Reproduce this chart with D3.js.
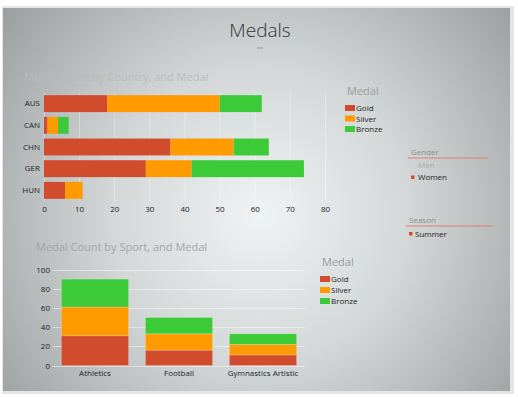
<!DOCTYPE html>
<html>
<head>
<meta charset="utf-8">
<script src="https://cdn.jsdelivr.net/npm/d3@7"></script>
<style>
  body { margin: 0; background: #fff; }
  text { font-family: "Open Sans", "Noto Sans", sans-serif; }
</style>
</head>
<body>
<svg id="chart"></svg>
<script>
// data
var medals = ["Gold", "Silver", "Bronze"];
var medalColors = ["#d04c2d", "#ff9a00", "#3cca39"];
var countries = ["AUS", "CAN", "CHN", "GER", "HUN"];
var countryGold = [18, 1, 36, 29, 6];
var countrySilver = [32, 3, 18, 13, 5];
var countryBronze = [12, 3, 10, 32, 0];
var countryTicks = [0, 10, 20, 30, 40, 50, 60, 70, 80];
var sports = ["Athletics", "Football", "Gymnastics Artistic"];
var sportGold = [31, 16, 11];
var sportSilver = [30, 17, 11];
var sportBronze = [29, 17, 11];
var sportTicks = [0, 20, 40, 60, 80, 100];
var genders = ["Men", "Women"];
var seasons = ["Summer"];

function drawAll() {
  var W = 518, H = 397;
  var svg = d3.select("#chart").attr("width", W).attr("height", H);

  // background panel
  var defs = svg.append("defs");
  var grad = defs.append("radialGradient")
    .attr("id", "bg")
    .attr("gradientUnits", "userSpaceOnUse")
    .attr("cx", 260).attr("cy", 215).attr("r", 330);
  grad.append("stop").attr("offset", "0%").attr("stop-color", "#f0f3f3");
  grad.append("stop").attr("offset", "45%").attr("stop-color", "#d3d7d7");
  grad.append("stop").attr("offset", "100%").attr("stop-color", "#9a9e9f");

  svg.append("rect").attr("x", 2).attr("y", 6).attr("width", 512).attr("height", 388)
    .attr("fill", "#e4e6e6");
  svg.append("rect").attr("x", 3).attr("y", 8).attr("width", 507).attr("height", 383)
    .attr("fill", "url(#bg)");

  // main title
  svg.append("text").attr("x", 260).attr("y", 37).attr("text-anchor", "middle")
    .attr("font-size", 19).attr("font-weight", 300).attr("fill", "#333")
    .text("Medals");
  svg.append("line").attr("x1", 257).attr("x2", 263).attr("y1", 48).attr("y2", 48)
    .attr("stroke", "#999").attr("stroke-width", 1);

  drawCountryChart(svg);
  drawSportChart(svg);
  drawSlicers(svg);
}

function stackRows(cats, g, s, b) {
  return cats.map(function(c, i) {
    return { cat: c, Gold: g[i], Silver: s[i], Bronze: b[i] };
  });
}

function drawCountryChart(svg) {
  var rows = stackRows(countries, countryGold, countrySilver, countryBronze);
  var series = d3.stack().keys(medals)(rows);
  var x = d3.scaleLinear().domain([0, 80]).range([44, 325]);
  var y = d3.scaleBand().domain(countries).range([93, 201]).paddingInner(0.22).paddingOuter(0.1);
  var color = d3.scaleOrdinal().domain(medals).range(medalColors);

  svg.append("text").attr("x", 24).attr("y", 81)
    .attr("font-size", 11).attr("fill", "#b8bbbc")
    .text("Medal Count by Country, and Medal");

  // grid
  svg.append("g").selectAll("line").data(countryTicks).enter().append("line")
    .attr("x1", function(d) { return x(d) + 0.5; })
    .attr("x2", function(d) { return x(d) + 0.5; })
    .attr("y1", 93).attr("y2", 201)
    .attr("stroke", "#ffffff").attr("stroke-opacity", 0.35);

  svg.append("g").selectAll("g").data(series).enter().append("g")
    .attr("fill", function(d) { return color(d.key); })
    .selectAll("rect").data(function(d) { return d; }).enter().append("rect")
    .attr("x", function(d) { return x(d[0]); })
    .attr("y", function(d) { return y(d.data.cat); })
    .attr("width", function(d) { return x(d[1]) - x(d[0]); })
    .attr("height", y.bandwidth());

  var xAxis = svg.append("g").attr("transform", "translate(0,201)")
    .call(d3.axisBottom(x).tickValues(countryTicks).tickSize(0).tickPadding(5));
  xAxis.select(".domain").remove();
  xAxis.selectAll("text").attr("font-size", 8).attr("fill", "#222")
    .attr("font-family", "'Open Sans', sans-serif");

  var yAxis = svg.append("g").attr("transform", "translate(44,0)")
    .call(d3.axisLeft(y).tickSize(0).tickPadding(4));
  yAxis.select(".domain").remove();
  yAxis.selectAll("text").attr("font-size", 8).attr("fill", "#222")
    .attr("font-family", "'Open Sans', sans-serif");

  drawLegend(svg, 345, 99, 10.5);
}

function drawSportChart(svg) {
  var rows = stackRows(sports, sportGold, sportSilver, sportBronze);
  var series = d3.stack().keys(medals)(rows);
  var x = d3.scaleBand().domain(sports).range([53, 305]).paddingInner(0.2).paddingOuter(0.1);
  var y = d3.scaleLinear().domain([0, 100]).range([365.5, 269.5]);
  var color = d3.scaleOrdinal().domain(medals).range(medalColors);

  svg.append("text").attr("x", 36).attr("y", 251)
    .attr("font-size", 11).attr("fill", "#a2a5a6")
    .text("Medal Count by Sport, and Medal");

  svg.append("g").selectAll("line").data(sportTicks).enter().append("line")
    .attr("x1", 53).attr("x2", 305)
    .attr("y1", function(d) { return Math.round(y(d)) + 0.5; })
    .attr("y2", function(d) { return Math.round(y(d)) + 0.5; })
    .attr("stroke", "#ffffff").attr("stroke-opacity", 0.45);

  svg.append("g").selectAll("g").data(series).enter().append("g")
    .attr("fill", function(d) { return color(d.key); })
    .selectAll("rect").data(function(d) { return d; }).enter().append("rect")
    .attr("x", function(d) { return x(d.data.cat); })
    .attr("y", function(d) { return y(d[1]); })
    .attr("width", x.bandwidth())
    .attr("height", function(d) { return y(d[0]) - y(d[1]); })
    .attr("stroke", "#ffffff").attr("stroke-opacity", 0.25).attr("stroke-width", 0.8);

  var yAxis = svg.append("g").attr("transform", "translate(50,0)")
    .call(d3.axisLeft(y).tickValues(sportTicks).tickSize(0).tickPadding(0));
  yAxis.select(".domain").remove();
  yAxis.selectAll("text").attr("font-size", 8).attr("fill", "#222")
    .attr("font-family", "'Open Sans', sans-serif");

  var xAxis = svg.append("g").attr("transform", "translate(0,366)")
    .call(d3.axisBottom(x).tickSize(0).tickPadding(4));
  xAxis.select(".domain").remove();
  xAxis.selectAll("text").attr("font-size", 8).attr("fill", "#222")
    .attr("font-family", "'Open Sans', sans-serif");

  drawLegend(svg, 320, 270, 11);
}

function drawLegend(svg, lx, ly, step) {
  var g = svg.append("g");
  g.append("text").attr("x", lx + 2).attr("y", ly - 4)
    .attr("font-size", 11).attr("fill", "#999c9d").text("Medal");
  var item = g.selectAll("g.item").data(medals).enter().append("g")
    .attr("transform", function(d, i) { return "translate(" + lx + "," + (ly + 6 + i * step) + ")"; });
  item.append("rect").attr("width", 10).attr("height", 6)
    .attr("fill", function(d, i) { return medalColors[i]; });
  item.append("text").attr("x", 11).attr("y", 6)
    .attr("font-size", 8).attr("fill", "#222").text(function(d) { return d; });
}

function drawSlicers(svg) {
  var g = svg.append("g");
  g.append("text").attr("x", 411).attr("y", 155).attr("font-size", 8).attr("fill", "#8a8d8e").text("Gender");
  g.append("line").attr("x1", 408).attr("x2", 488).attr("y1", 158).attr("y2", 158)
    .attr("stroke", "#e0806a").attr("stroke-width", 1);
  g.selectAll("text.g").data(genders).enter().append("text").attr("class", "g")
    .attr("x", 418).attr("y", function(d, i) { return 168 + i * 12; })
    .attr("font-size", 8)
    .attr("fill", function(d, i) { return i === 0 ? "#a8abac" : "#222"; })
    .text(function(d) { return d; });
  g.append("rect").attr("x", 411).attr("y", 175.5).attr("width", 3.5).attr("height", 3.5).attr("fill", "#d04c2d");

  g.append("text").attr("x", 409).attr("y", 223).attr("font-size", 8).attr("fill", "#8a8d8e").text("Season");
  g.append("line").attr("x1", 406).attr("x2", 493).attr("y1", 226).attr("y2", 226)
    .attr("stroke", "#e0806a").attr("stroke-width", 1);
  g.selectAll("text.s").data(seasons).enter().append("text").attr("class", "s")
    .attr("x", 415).attr("y", 236.5).attr("font-size", 8).attr("fill", "#222")
    .text(function(d) { return d; });
  g.append("rect").attr("x", 409).attr("y", 232).attr("width", 3.5).attr("height", 3.5).attr("fill", "#d04c2d");
}

drawAll();
</script>
</body>
</html>
